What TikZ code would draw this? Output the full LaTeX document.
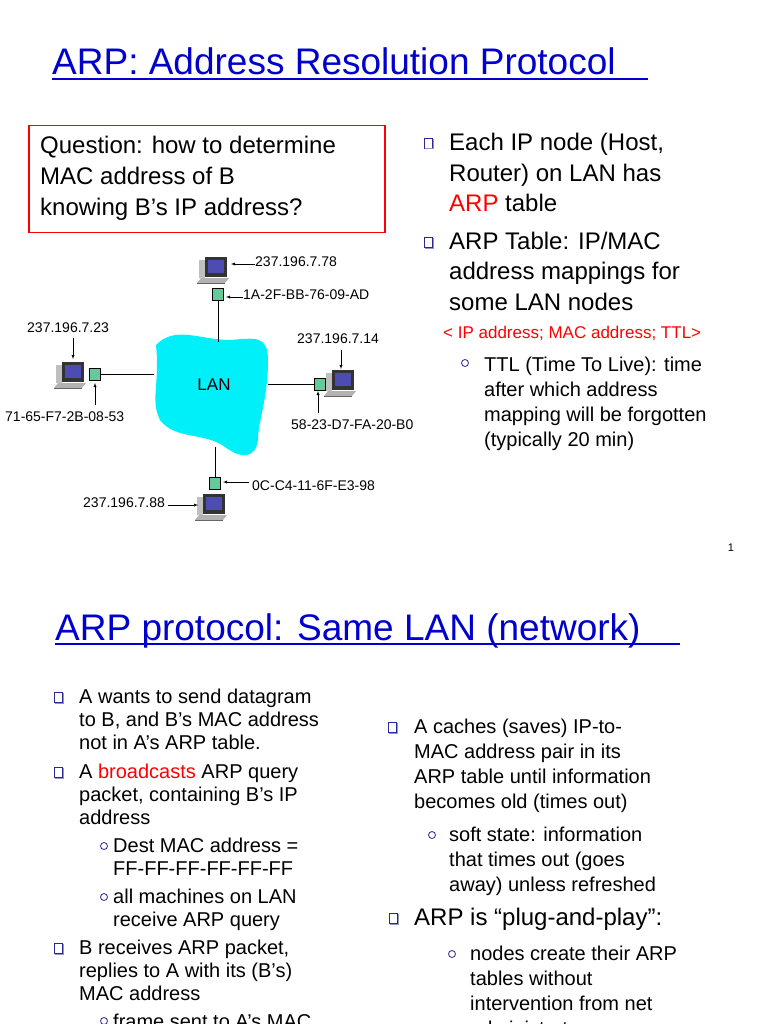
\documentclass[tikz,border=0pt]{standalone}
\usepackage{fontspec}
\setmainfont{Liberation Sans}
\begin{document}
\begin{tikzpicture}[x=1pt,y=-1pt,
  t/.style={anchor=west,inner sep=0pt,yshift=-4pt,text height=0.72em,text depth=0.2em,font=\fontsize{24}{24}\selectfont},
  s/.style={anchor=west,inner sep=0pt,yshift=-3pt,text height=0.72em,text depth=0.2em,font=\fontsize{20}{20}\selectfont},
  lbl/.style={anchor=west,inner sep=0pt,text height=0.72em,text depth=0.2em,font=\fontsize{14}{14}\selectfont},
  nic/.style={draw=black,fill=teal!70!green!60,minimum width=11pt,minimum height=12pt,inner sep=0pt},
  ar/.style={-latex,thin},
  ttl/.style={anchor=base west,inner sep=0pt,text=blue!80!black,font=\fontsize{37}{37}\selectfont}]
\definecolor{bul}{RGB}{40,40,150}
\definecolor{lancol}{RGB}{0,240,250}
\useasboundingbox (0,0) rectangle (768,1024);
\clip (0,0) rectangle (768,1024);
\newcommand\sq[2]{\draw[bul,fill=white,line width=0.9pt] (#1-4,#2-5) rectangle (#1+4,#2+5); \draw[bul!50,line width=1pt] (#1-3,#2+6)--(#1+5,#2+6)--(#1+5,#2-4);}
\newcommand\ci[2]{\draw[bul,line width=0.8pt] (#1,#2) circle (3.5);}
\tikzset{pics/pc/.style={code={
  \fill[gray!60] (-14,8) -- (14,8) -- (10,13) -- (-18,13) -- cycle;
  \fill[gray!50] (-16,-10) rectangle (-10,8);
  \fill[black!80] (-10,-13) rectangle (12,7);
  \fill[blue!40!gray] (-7,-10) rectangle (9,3);
  \draw[black!60] (-18,13) -- (10,13);
}}}
% slide 1
\node[ttl] (t1) at (52,75) {ARP: Address Resolution Protocol};
\draw[blue!80!black,line width=1.2pt] (52,79) -- (648,79);
\node[draw=red,line width=1.5pt,minimum width=356pt,minimum height=107pt,anchor=north west] (qb) at (28,125) {};
\node[t] (q1) at (40,147) {Question: how to determine};
\node[t] (q2) at (40,178) {MAC address of B};
\node[t] (q3) at (40,209) {knowing B’s IP address?};
\sq{428}{143}\sq{428}{242}
\node[t] at (449,144) {Each IP node (Host,};
\node[t] at (449,175) {Router) on LAN has};
\node[t] at (449,205) {\textcolor{red}{ARP} table};
\node[t] at (449,243) {ARP Table: IP/MAC};
\node[t] at (449,273) {address mappings for};
\node[t] at (449,304) {some LAN nodes};
\node[anchor=west,inner sep=0pt,yshift=-3pt,text height=0.72em,text depth=0.2em,text=red,font=\fontsize{17}{17}\selectfont] at (443,333) {< IP address; MAC address; TTL>};
\ci{465}{363}
\node[s] at (484,366) { TTL (Time To Live): time};
\node[s] at (484,391) {after which address};
\node[s] at (484,416) {mapping will be forgotten};
\node[s] at (484,441) {(typically 20 min)};
\node[anchor=center,font=\fontsize{11}{11}\selectfont] at (731,548) {1};
% network
\fill[lancol] (156,345) .. controls (175,325) and (200,340) .. (230,340) .. controls (255,338) and (268,335) .. (268,360) .. controls (268,400) and (258,420) .. (258,440) .. controls (255,460) and (240,458) .. (225,447) .. controls (205,432) and (175,440) .. (160,420) .. controls (150,400) and (160,385) .. (156,345) -- cycle;
\node[lbl,anchor=center,font=\fontsize{17}{17}\selectfont] (lan) at (214,388) {LAN};
\coordinate (lt) at (218,342); \coordinate (ll) at (154,374); \coordinate (lr) at (268,384); \coordinate (lb) at (215,447);
\pic at (215,270) {pc}; \node[nic] (n1) at (218,294) {};
\pic at (72,375) {pc}; \node[nic] (n2) at (95,374) {};
\pic at (342,383) {pc}; \node[nic] (n3) at (320,384) {};
\pic at (213,507) {pc}; \node[nic] (n4) at (215,483) {};
\draw (n1) -- (lt); \draw (n2) -- (ll); \draw (n3) -- (lr); \draw (n4) -- (lb);
\node[lbl] (a1) at (255,264) {237.196.7.78}; \draw[ar] (a1.west) -- ++(-24,0);
\node[lbl] (m1) at (243,297) {1A-2F-BB-76-09-AD}; \draw[ar] (m1.west) -- ++(-17,0);
\node[lbl] (a2) at (27,330) {237.196.7.23}; \draw[ar] (73,338) -- (73,359);
\node[lbl] (m2) at (5,419) {71-65-F7-2B-08-53}; \draw[ar] (95,405) -- (95,383);
\node[lbl] (a3) at (297,341) {237.196.7.14}; \draw[ar] (341,350) -- (341,369);
\node[lbl] (m3) at (291,427) {58-23-D7-FA-20-B0}; \draw[ar] (318,413) -- (318,391);
\node[lbl] (m4) at (252,488) {0C-C4-11-6F-E3-98}; \draw[ar] (m4.west)++(-3,-6) -- (223,482);
\node[lbl] (a4) at (83,505) {237.196.7.88}; \draw[ar] (a4.east)++(3,0) -- (198,505);
% slide 2
\node[ttl] (t2) at (55,640) {ARP protocol: Same LAN (network)};
\draw[blue!80!black,line width=1.2pt] (55,644) -- (680,644);
\sq{58}{697}\sq{58}{772}\sq{58}{948}
\node[s] at (79,698) {A wants to send datagram};
\node[s] at (79,721) {to B, and B’s MAC address};
\node[s] at (79,744) {not in A’s ARP table.};
\node[s] at (79,773) {A \textcolor{red}{broadcasts} ARP query};
\node[s] at (79,796) {packet, containing B's IP};
\node[s] at (79,819) {address};
\ci{104}{846}\ci{104}{897}\ci{104}{1021}
\node[s] at (113,847) {Dest MAC address =};
\node[s] at (113,870) {FF-FF-FF-FF-FF-FF};
\node[s] at (113,898) {all machines on LAN};
\node[s] at (113,921) {receive ARP query};
\node[s] at (79,949) {B receives ARP packet,};
\node[s] at (79,972) {replies to A with its (B's)};
\node[s] at (79,995) {MAC address};
\node[s] at (113,1023) {frame sent to A’s MAC};
\sq{392}{727}
\node[s] at (414,728) {A caches (saves) IP-to-};
\node[s] at (414,753) {MAC address pair in its};
\node[s] at (414,778) {ARP table until information};
\node[s] at (414,803) {becomes old (times out)};
\ci{432}{835}
\node[s] at (449,836) {soft state: information};
\node[s] at (449,861) {that times out (goes};
\node[s] at (449,886) {away) unless refreshed};
\sq{393}{918}
\node[t] at (414,919) {ARP is “plug-and-play”:};
\ci{452}{954}
\node[s] at (470,955) {nodes create their ARP};
\node[s] at (470,980) {tables without};
\node[s] at (470,1005) {intervention from net};
\node[s] at (470,1030) {administrator};
\end{tikzpicture}
\end{document}
